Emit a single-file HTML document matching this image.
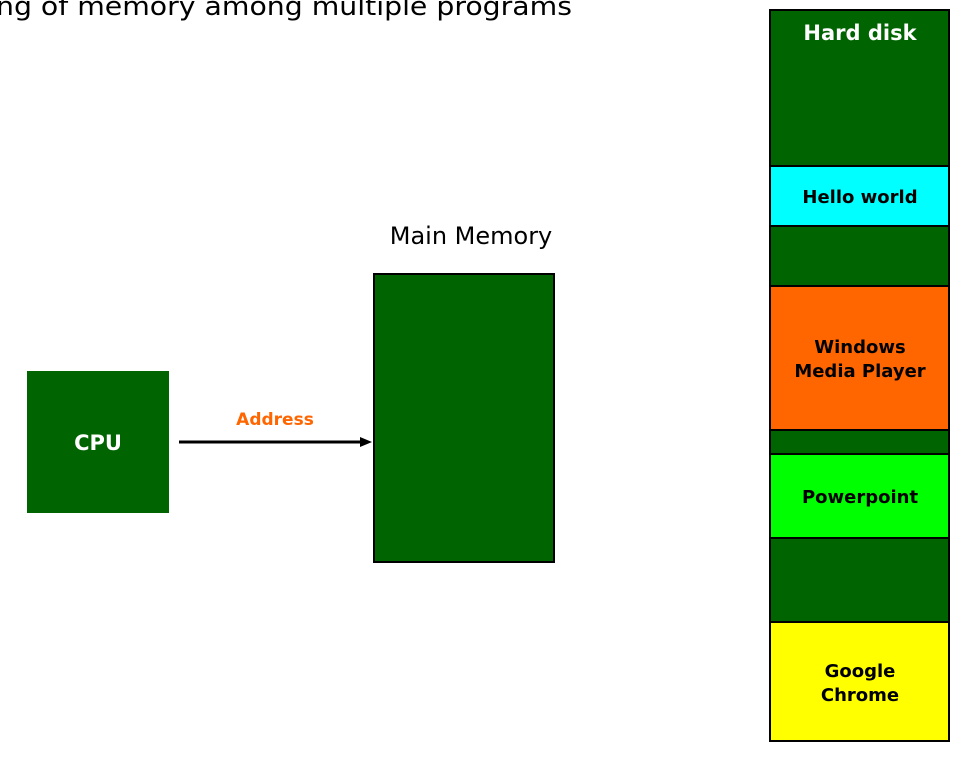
<!DOCTYPE html>
<html><head><style>html,body{margin:0;padding:0;background:#fff}svg{display:block}</style></head>
<body>
<svg width="973" height="759" xmlns="http://www.w3.org/2000/svg" font-family="Verdana, 'DejaVu Sans', sans-serif">
<text x="-4" y="15" font-size="26" fill="#000" textLength="576" lengthAdjust="spacingAndGlyphs">ng of memory among multiple programs</text>
<rect x="27" y="371" width="142" height="142" fill="#006400"/>
<text x="98" y="450" font-size="21" font-weight="bold" fill="#fff" text-anchor="middle">CPU</text>
<text x="275" y="425" font-size="17" font-weight="bold" fill="#ff6600" text-anchor="middle">Address</text>
<line x1="179" y1="442" x2="362" y2="442" stroke="#000" stroke-width="3"/>
<polygon points="372,442 360,437 360,447" fill="#000"/>
<text x="471" y="244" font-size="24" fill="#000" text-anchor="middle">Main Memory</text>
<rect x="374" y="274" width="180" height="288" fill="#006400" stroke="#000" stroke-width="2"/>
<g stroke="#000" stroke-width="2">
<rect x="770" y="10" width="179" height="156" fill="#006400"/>
<rect x="770" y="166" width="179" height="60" fill="#00ffff"/>
<rect x="770" y="226" width="179" height="60" fill="#006400"/>
<rect x="770" y="286" width="179" height="144" fill="#ff6600"/>
<rect x="770" y="430" width="179" height="24" fill="#006400"/>
<rect x="770" y="454" width="179" height="84" fill="#00ff00"/>
<rect x="770" y="538" width="179" height="84" fill="#006400"/>
<rect x="770" y="622" width="179" height="119" fill="#ffff00"/>
</g>
<g font-weight="bold" text-anchor="middle">
<text x="860" y="40" font-size="21" fill="#fff">Hard disk</text>
<g font-size="18" fill="#000">
<text x="860" y="203">Hello world</text>
<text x="860" y="353">Windows</text>
<text x="860" y="377">Media Player</text>
<text x="860" y="503">Powerpoint</text>
<text x="860" y="677">Google</text>
<text x="860" y="701">Chrome</text>
</g></g>
</svg>
</body></html>
